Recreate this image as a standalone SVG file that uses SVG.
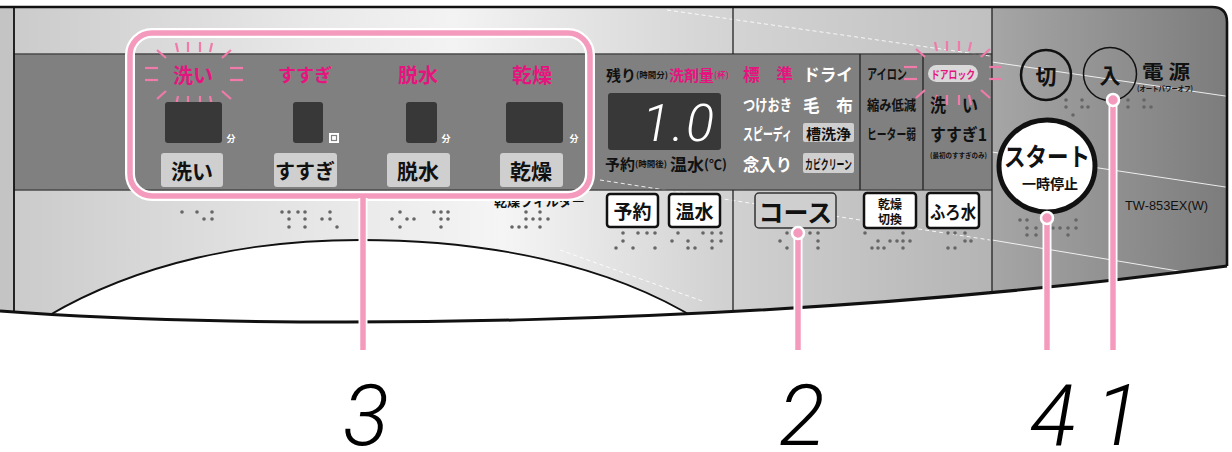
<svg xmlns="http://www.w3.org/2000/svg" width="1232" height="452" viewBox="0 0 1232 452">
<style>
.jp{font-family:"Noto Sans CJK JP","Noto Sans CJK SC",sans-serif;font-weight:700}
.pk{fill:#e5147e}
.wt{fill:#ffffff}
.bk{fill:#111111}
.disp{fill:#383838}
.gbtn{fill:#cfcfcf}
.wbtn{fill:#ffffff;stroke:#111;stroke-width:2.5}
.dot{fill:#666}
.ray{stroke:#f07aaa;stroke-width:2.2;stroke-linecap:butt}
.lbl{font-family:"Roboto","Liberation Sans",sans-serif;font-weight:300;font-style:italic;font-size:86px;fill:#000}
.conW{stroke:#fff;stroke-width:9;fill:none}
.conP{stroke:#f49bbd;stroke-width:5.5;fill:none}
.refl{stroke:#fff;stroke-width:1;fill:none;opacity:0.85}
</style>
<defs>
<linearGradient id="silverTop" x1="0" x2="1" y1="0" y2="0">
<stop offset="0" stop-color="#cbcbcb"/><stop offset="0.3" stop-color="#e8e8e8"/><stop offset="0.45" stop-color="#f3f3f3"/><stop offset="0.7" stop-color="#d6d6d6"/><stop offset="1" stop-color="#c0c0c0"/>
</linearGradient>
<linearGradient id="silverBot" x1="0" x2="1" y1="0" y2="0">
<stop offset="0" stop-color="#cbcbcb"/><stop offset="0.3" stop-color="#e6e6e6"/><stop offset="0.5" stop-color="#f5f5f5"/><stop offset="0.72" stop-color="#d2d2d2"/><stop offset="1" stop-color="#b4b4b4"/>
</linearGradient>
<linearGradient id="rightGrad" x1="0" x2="1" y1="0" y2="0">
<stop offset="0" stop-color="#a6a6a6"/><stop offset="1" stop-color="#7b7b7b"/>
</linearGradient>
<clipPath id="panelClip">
<path d="M0 7 H1212 Q1227 7 1227 22 V266 C750 330 250 330 0 311 Z"/>
</clipPath>
<clipPath id="filterClip"><rect x="480" y="201" width="110" height="10"/></clipPath>
<g id="glow">
<line class="ray" x1="-37" y1="-24" x2="-28" y2="-16"/>
<line class="ray" x1="-18" y1="-31" x2="-16" y2="-22"/>
<line class="ray" x1="-6" y1="-32" x2="-6" y2="-22"/>
<line class="ray" x1="6" y1="-32" x2="6" y2="-22"/>
<line class="ray" x1="18" y1="-31" x2="16" y2="-22"/>
<line class="ray" x1="37" y1="-24" x2="28" y2="-16"/>
<line class="ray" x1="-49" y1="-6" x2="-36" y2="-6"/>
<line class="ray" x1="-49" y1="6" x2="-36" y2="6"/>
<line class="ray" x1="36" y1="-6" x2="49" y2="-6"/>
<line class="ray" x1="36" y1="6" x2="49" y2="6"/>
<line class="ray" x1="-37" y1="25" x2="-28" y2="17"/>
<line class="ray" x1="-18" y1="32" x2="-16" y2="22"/>
<line class="ray" x1="-6" y1="32" x2="-6" y2="22"/>
<line class="ray" x1="6" y1="32" x2="6" y2="22"/>
<line class="ray" x1="18" y1="32" x2="16" y2="22"/>
<line class="ray" x1="37" y1="25" x2="28" y2="17"/>
</g>
</defs>

<rect width="1232" height="452" fill="#fff"/>

<g id="panel">
<g clip-path="url(#panelClip)">
<rect x="0" y="0" width="14" height="340" fill="#c4c4c4"/>
<rect x="14" y="7" width="978" height="47" fill="url(#silverTop)"/>
<rect x="14" y="190" width="978" height="150" fill="url(#silverBot)"/>
<rect x="14" y="54" width="978" height="136" fill="#808080"/>
<rect x="992" y="7" width="240" height="340" fill="url(#rightGrad)"/>
<line class="refl" x1="667" y1="10" x2="990" y2="56" stroke-dasharray="4 3"/>
<line class="refl" x1="992" y1="62" x2="1232" y2="97"/>
<line class="refl" x1="992" y1="152" x2="1232" y2="188"/>
<line class="refl" x1="600" y1="180" x2="990" y2="240" stroke-dasharray="4 3"/>
<line class="refl" x1="992" y1="240" x2="1232" y2="280"/>
<line class="refl" x1="560" y1="250" x2="705" y2="302" stroke-dasharray="4 3"/>
<path d="M48 316 C140 262 250 240 360 240 C480 240 610 262 706 325 L706 340 L48 340 Z" fill="#fff"/>
<path d="M48 316 C140 262 250 240 360 240 C480 240 610 262 706 325" fill="none" stroke="#111" stroke-width="1.8"/>
<line x1="14" y1="54" x2="992" y2="54" stroke="#4a4a4a" stroke-width="1.6"/>
<line x1="14" y1="190" x2="992" y2="190" stroke="#4a4a4a" stroke-width="1.6"/>
<line x1="733" y1="7" x2="733" y2="54" stroke="#222" stroke-width="1.3"/>
<line x1="733" y1="190" x2="733" y2="330" stroke="#222" stroke-width="1.3"/>
<line x1="860" y1="54" x2="860" y2="190" stroke="#222" stroke-width="1.3"/>
<line x1="923" y1="54" x2="923" y2="190" stroke="#222" stroke-width="1.3"/>
<line x1="992" y1="7" x2="992" y2="300" stroke="#222" stroke-width="1.3"/>
<line x1="14" y1="7" x2="14" y2="320" stroke="#111" stroke-width="1.8"/>
</g>
<path d="M0 7 H1212 Q1227 7 1227 22 V266" fill="none" stroke="#111" stroke-width="2.6"/>
<path d="M0 311 C250 330 750 330 1227 266" fill="none" stroke="#111" stroke-width="3"/>
</g>

<g id="braille">
<circle class="dot" cx="182" cy="212" r="1.8"/><circle class="dot" cx="197" cy="212" r="1.8"/><circle class="dot" cx="212" cy="212" r="1.8"/><circle class="dot" cx="204" cy="219" r="1.8"/><circle class="dot" cx="212" cy="219" r="1.8"/>
<circle class="dot" cx="282" cy="212" r="1.8"/><circle class="dot" cx="289" cy="212" r="1.8"/><circle class="dot" cx="298" cy="212" r="1.8"/><circle class="dot" cx="305" cy="212" r="1.8"/><circle class="dot" cx="330" cy="212" r="1.8"/><circle class="dot" cx="289" cy="219" r="1.8"/><circle class="dot" cx="305" cy="219" r="1.8"/><circle class="dot" cx="322" cy="219" r="1.8"/><circle class="dot" cx="330" cy="219" r="1.8"/><circle class="dot" cx="289" cy="227" r="1.8"/><circle class="dot" cx="305" cy="227" r="1.8"/><circle class="dot" cx="337" cy="227" r="1.8"/>
<circle class="dot" cx="392" cy="219" r="1.8"/><circle class="dot" cx="400" cy="212" r="1.8"/><circle class="dot" cx="407" cy="219" r="1.8"/><circle class="dot" cx="414" cy="219" r="1.8"/><circle class="dot" cx="400" cy="227" r="1.8"/><circle class="dot" cx="434" cy="212" r="1.8"/><circle class="dot" cx="441" cy="212" r="1.8"/><circle class="dot" cx="448" cy="212" r="1.8"/><circle class="dot" cx="441" cy="219" r="1.8"/><circle class="dot" cx="448" cy="219" r="1.8"/><circle class="dot" cx="441" cy="227" r="1.8"/>
<circle class="dot" cx="526" cy="212" r="1.8"/><circle class="dot" cx="540" cy="212" r="1.8"/><circle class="dot" cx="526" cy="219" r="1.8"/><circle class="dot" cx="533" cy="219" r="1.8"/><circle class="dot" cx="540" cy="219" r="1.8"/><circle class="dot" cx="548" cy="219" r="1.8"/><circle class="dot" cx="512" cy="227" r="1.8"/><circle class="dot" cx="519" cy="227" r="1.8"/><circle class="dot" cx="526" cy="227" r="1.8"/><circle class="dot" cx="540" cy="227" r="1.8"/>
<circle class="dot" cx="623" cy="233" r="1.8"/><circle class="dot" cx="638" cy="233" r="1.8"/><circle class="dot" cx="647" cy="233" r="1.8"/><circle class="dot" cx="655" cy="233" r="1.8"/><circle class="dot" cx="623" cy="241" r="1.8"/><circle class="dot" cx="616" cy="248" r="1.8"/><circle class="dot" cx="633" cy="248" r="1.8"/><circle class="dot" cx="655" cy="248" r="1.8"/>
<circle class="dot" cx="678" cy="233" r="1.8"/><circle class="dot" cx="703" cy="233" r="1.8"/><circle class="dot" cx="712" cy="233" r="1.8"/><circle class="dot" cx="721" cy="233" r="1.8"/><circle class="dot" cx="672" cy="241" r="1.8"/><circle class="dot" cx="688" cy="241" r="1.8"/><circle class="dot" cx="712" cy="241" r="1.8"/><circle class="dot" cx="721" cy="241" r="1.8"/><circle class="dot" cx="688" cy="248" r="1.8"/><circle class="dot" cx="695" cy="248" r="1.8"/><circle class="dot" cx="712" cy="248" r="1.8"/>
<circle class="dot" cx="780" cy="241" r="1.8"/><circle class="dot" cx="787" cy="233" r="1.8"/><circle class="dot" cx="810" cy="233" r="1.8"/><circle class="dot" cx="818" cy="233" r="1.8"/><circle class="dot" cx="818" cy="241" r="1.8"/><circle class="dot" cx="787" cy="248" r="1.8"/><circle class="dot" cx="818" cy="248" r="1.8"/>
<circle class="dot" cx="865" cy="233" r="1.8"/><circle class="dot" cx="903" cy="233" r="1.8"/><circle class="dot" cx="878" cy="241" r="1.8"/><circle class="dot" cx="890" cy="241" r="1.8"/><circle class="dot" cx="897" cy="241" r="1.8"/><circle class="dot" cx="903" cy="241" r="1.8"/><circle class="dot" cx="910" cy="241" r="1.8"/><circle class="dot" cx="872" cy="248" r="1.8"/><circle class="dot" cx="878" cy="248" r="1.8"/><circle class="dot" cx="884" cy="248" r="1.8"/><circle class="dot" cx="903" cy="248" r="1.8"/>
<circle class="dot" cx="948" cy="233" r="1.8"/><circle class="dot" cx="955" cy="233" r="1.8"/><circle class="dot" cx="965" cy="233" r="1.8"/><circle class="dot" cx="965" cy="241" r="1.8"/><circle class="dot" cx="971" cy="241" r="1.8"/><circle class="dot" cx="948" cy="248" r="1.8"/><circle class="dot" cx="955" cy="248" r="1.8"/>
<circle class="dot" cx="1066" cy="100" r="1.8"/><circle class="dot" cx="1082" cy="100" r="1.8"/><circle class="dot" cx="1128" cy="100" r="1.8"/><circle class="dot" cx="1144" cy="100" r="1.8"/><circle class="dot" cx="1066" cy="107" r="1.8"/><circle class="dot" cx="1082" cy="107" r="1.8"/><circle class="dot" cx="1088" cy="107" r="1.8"/><circle class="dot" cx="1128" cy="107" r="1.8"/><circle class="dot" cx="1144" cy="107" r="1.8"/><circle class="dot" cx="1151" cy="107" r="1.8"/><circle class="dot" cx="1073" cy="115" r="1.8"/>
<circle class="dot" cx="1020" cy="220" r="1.8"/><circle class="dot" cx="1027" cy="220" r="1.8"/><circle class="dot" cx="1076" cy="220" r="1.8"/><circle class="dot" cx="1027" cy="228" r="1.8"/><circle class="dot" cx="1036" cy="228" r="1.8"/><circle class="dot" cx="1053" cy="228" r="1.8"/><circle class="dot" cx="1060" cy="228" r="1.8"/><circle class="dot" cx="1068" cy="228" r="1.8"/><circle class="dot" cx="1076" cy="228" r="1.8"/><circle class="dot" cx="1027" cy="235" r="1.8"/><circle class="dot" cx="1036" cy="235" r="1.8"/><circle class="dot" cx="1068" cy="235" r="1.8"/>
</g>

<g id="filter-label">
<text class="jp bk" x="494" y="206" font-size="13" clip-path="url(#filterClip)">乾燥フィルター</text>
</g>

<g id="wash">
<use href="#glow" x="194" y="74"/>
<text class="jp pk" x="193" y="74" font-size="20" text-anchor="middle" dominant-baseline="central">洗い</text>
<rect class="disp" x="165" y="102" width="57" height="41" rx="3"/>
<text class="jp wt" x="231" y="138" font-size="9" text-anchor="middle" dominant-baseline="central">分</text>
<rect class="gbtn" x="161" y="153" width="62" height="34" rx="3"/>
<text class="jp bk" x="192" y="170" font-size="21" text-anchor="middle" dominant-baseline="central">洗い</text>
</g>

<g id="rinse">
<text class="jp pk" x="305" y="74" font-size="18" text-anchor="middle" dominant-baseline="central">すすぎ</text>
<rect class="disp" x="293" y="102" width="30" height="41" rx="3"/>
<rect x="329" y="133" width="10" height="10" fill="#fff"/>
<rect x="331.5" y="135.5" width="5" height="5" fill="none" stroke="#808080" stroke-width="1.2"/>
<rect class="gbtn" x="274" y="153" width="63" height="34" rx="3"/>
<text class="jp bk" x="305" y="170" font-size="20" text-anchor="middle" dominant-baseline="central">すすぎ</text>
</g>

<g id="spin">
<text class="jp pk" x="418" y="74" font-size="20" text-anchor="middle" dominant-baseline="central">脱水</text>
<rect class="disp" x="406" y="102" width="31" height="41" rx="3"/>
<text class="jp wt" x="446" y="138" font-size="9" text-anchor="middle" dominant-baseline="central">分</text>
<rect class="gbtn" x="387" y="153" width="63" height="34" rx="3"/>
<text class="jp bk" x="418" y="170" font-size="21" text-anchor="middle" dominant-baseline="central">脱水</text>
</g>

<g id="dry">
<text class="jp pk" x="532" y="74" font-size="20" text-anchor="middle" dominant-baseline="central">乾燥</text>
<rect class="disp" x="506" y="102" width="57" height="41" rx="3"/>
<text class="jp wt" x="574" y="138" font-size="9" text-anchor="middle" dominant-baseline="central">分</text>
<rect class="gbtn" x="500" y="153" width="63" height="34" rx="3"/>
<text class="jp bk" x="531" y="170" font-size="21" text-anchor="middle" dominant-baseline="central">乾燥</text>
</g>

<g id="group3-frame">
<rect x="130" y="33" width="460" height="163" rx="22" fill="none" stroke="#fff" stroke-width="10"/>
<rect x="130" y="33" width="460" height="163" rx="22" fill="none" stroke="#f49bbd" stroke-width="5.5"/>
</g>

<g id="display">
<text class="jp bk" x="606" y="74" dominant-baseline="central"><tspan font-size="15">残り</tspan><tspan font-size="8.5">(時間分)</tspan></text>
<text class="jp pk" x="669" y="74" dominant-baseline="central"><tspan font-size="15">洗剤量</tspan><tspan font-size="8.5">(杯)</tspan></text>
<rect class="disp" x="608" y="93" width="113" height="57" rx="3"/>
<text x="716" y="141" font-family="Roboto, 'Liberation Sans', sans-serif" font-weight="300" font-style="italic" font-size="52" fill="#fff" text-anchor="end" letter-spacing="2">1.0</text>
<text class="jp bk" x="605" y="163" dominant-baseline="central"><tspan font-size="15">予約</tspan><tspan font-size="8.5">(時間後)</tspan></text>
<text class="jp bk" x="670" y="163" dominant-baseline="central"><tspan font-size="17">温水</tspan><tspan font-size="13">(℃)</tspan></text>
</g>

<g id="btn-reserve">
<rect class="wbtn" x="607" y="194" width="51" height="33" rx="3"/>
<text class="jp bk" x="632.5" y="210.5" font-size="19" text-anchor="middle" dominant-baseline="central">予約</text>
</g>
<g id="btn-warm">
<rect class="wbtn" x="669" y="194" width="51" height="33" rx="3"/>
<text class="jp bk" x="694.5" y="210.5" font-size="19" text-anchor="middle" dominant-baseline="central">温水</text>
</g>

<g id="course-list">
<text class="jp pk" x="743" y="73" font-size="17" dominant-baseline="central" textLength="50" lengthAdjust="spacingAndGlyphs">標　準</text>
<text class="jp wt" x="803" y="73" font-size="17" dominant-baseline="central" textLength="50" lengthAdjust="spacingAndGlyphs">ドライ</text>
<text class="jp wt" x="743" y="104" font-size="16" dominant-baseline="central" textLength="49" lengthAdjust="spacingAndGlyphs">つけおき</text>
<text class="jp wt" x="803" y="104" font-size="17" dominant-baseline="central" textLength="50" lengthAdjust="spacingAndGlyphs">毛　布</text>
<text class="jp wt" x="743" y="133" font-size="16" dominant-baseline="central" textLength="49" lengthAdjust="spacingAndGlyphs">スピーディ</text>
<rect x="803" y="123" width="51" height="19" rx="2" fill="#cfcfcf"/>
<text class="jp bk" x="806" y="132.5" font-size="14" dominant-baseline="central" textLength="45" lengthAdjust="spacingAndGlyphs">槽洗浄</text>
<text class="jp wt" x="743" y="163" font-size="17" dominant-baseline="central" textLength="49" lengthAdjust="spacingAndGlyphs">念入り</text>
<rect x="803" y="153" width="51" height="20" rx="2" fill="#cfcfcf"/>
<text class="jp bk" x="805" y="163" font-size="13" dominant-baseline="central" textLength="47" lengthAdjust="spacingAndGlyphs">カビクリーン</text>
<text class="jp bk" x="867" y="73" font-size="14" dominant-baseline="central" textLength="40" lengthAdjust="spacingAndGlyphs">アイロン</text>
<text class="jp bk" x="867" y="104" font-size="14" dominant-baseline="central" textLength="49" lengthAdjust="spacingAndGlyphs">縮み低減</text>
<text class="jp bk" x="867" y="133" font-size="14" dominant-baseline="central" textLength="49" lengthAdjust="spacingAndGlyphs">ヒーター弱</text>
</g>

<g id="door-lock">
<use href="#glow" x="953" y="73"/>
<rect x="928" y="65" width="50" height="17" rx="8.5" fill="#d9d9d9"/>
<text class="jp pk" x="953" y="73.5" font-size="11" text-anchor="middle" dominant-baseline="central" textLength="44" lengthAdjust="spacingAndGlyphs">ドアロック</text>
<text class="jp bk" x="930" y="104" font-size="18" dominant-baseline="central" textLength="48" lengthAdjust="spacingAndGlyphs">洗　い</text>
<text class="jp bk" x="930" y="133" font-size="17" dominant-baseline="central" textLength="57" lengthAdjust="spacingAndGlyphs">すすぎ1</text>
<text class="jp bk" x="930" y="155" font-size="7" dominant-baseline="central" textLength="57" lengthAdjust="spacingAndGlyphs">(最初のすすぎのみ)</text>
</g>

<g id="btn-course">
<rect x="755" y="193" width="81" height="35" rx="4" fill="#cfcfcf" stroke="#333" stroke-width="1.5"/>
<text class="jp bk" x="795.5" y="210.5" font-size="25" text-anchor="middle" dominant-baseline="central">コース</text>
</g>
<g id="btn-drychange">
<rect class="wbtn" x="864" y="193" width="52" height="35" rx="3"/>
<text class="jp bk" x="890" y="203" font-size="12" text-anchor="middle" dominant-baseline="central">乾燥</text>
<text class="jp bk" x="890" y="218.5" font-size="12" text-anchor="middle" dominant-baseline="central">切換</text>
</g>
<g id="btn-bathwater">
<rect class="wbtn" x="927" y="193" width="52" height="35" rx="3"/>
<text class="jp bk" x="953" y="210.5" font-size="18" text-anchor="middle" dominant-baseline="central" textLength="46" lengthAdjust="spacingAndGlyphs">ふろ水</text>
</g>

<g id="btn-off">
<circle cx="1046" cy="75" r="25" fill="none" stroke="#111" stroke-width="2.5"/>
<text class="jp bk" x="1046" y="75" font-size="21" text-anchor="middle" dominant-baseline="central">切</text>
</g>
<g id="btn-on">
<circle cx="1110" cy="74" r="26.5" fill="none" stroke="#111" stroke-width="1.5"/>
<text class="jp bk" x="1110" y="74" font-size="21" text-anchor="middle" dominant-baseline="central">入</text>
</g>
<g id="power-label">
<text class="jp bk" x="1142" y="70" font-size="19" dominant-baseline="central" textLength="48" lengthAdjust="spacingAndGlyphs">電 源</text>
<text class="jp bk" x="1137" y="88" font-size="7" dominant-baseline="central" textLength="56" lengthAdjust="spacingAndGlyphs">(オートパワーオフ)</text>
</g>
<g id="btn-start">
<ellipse cx="1047" cy="166" rx="48" ry="46" fill="#fff" stroke="#111" stroke-width="5"/>
<text class="jp bk" x="1047" y="155" font-size="25" text-anchor="middle" dominant-baseline="central" textLength="86" lengthAdjust="spacingAndGlyphs">スタート</text>
<text class="jp bk" x="1050" y="183" font-size="14" text-anchor="middle" dominant-baseline="central" textLength="56" lengthAdjust="spacingAndGlyphs">一時停止</text>
</g>
<g id="model">
<text x="1125" y="210" font-family="'Liberation Sans', Arial, sans-serif" font-size="13.5" fill="#111" textLength="83" lengthAdjust="spacingAndGlyphs">TW-853EX(W)</text>
</g>

<g id="connectors">
<line class="conW" x1="363" y1="198" x2="363" y2="350"/>
<line class="conP" x1="363" y1="196" x2="363" y2="350"/>
<line class="conW" x1="798" y1="233" x2="798" y2="350"/>
<line class="conP" x1="798" y1="233" x2="798" y2="350"/>
<circle cx="798" cy="233" r="6" fill="#f49bbd" stroke="#fff" stroke-width="2.5"/>
<line class="conW" x1="1047" y1="218" x2="1047" y2="350"/>
<line class="conP" x1="1047" y1="218" x2="1047" y2="350"/>
<circle cx="1047" cy="218" r="6" fill="#f49bbd" stroke="#fff" stroke-width="2.5"/>
<line class="conW" x1="1113" y1="100" x2="1113" y2="350"/>
<line class="conP" x1="1113" y1="100" x2="1113" y2="350"/>
<circle cx="1113" cy="100" r="6" fill="#f49bbd" stroke="#fff" stroke-width="2.5"/>
</g>

<g id="labels">
<text class="lbl" x="366" y="445" text-anchor="middle">3</text>
<text class="lbl" x="802" y="445" text-anchor="middle">2</text>
<text class="lbl" x="1053" y="445" text-anchor="middle">4</text>
<text class="lbl" x="1118" y="445" text-anchor="middle">1</text>
</g>
</svg>
